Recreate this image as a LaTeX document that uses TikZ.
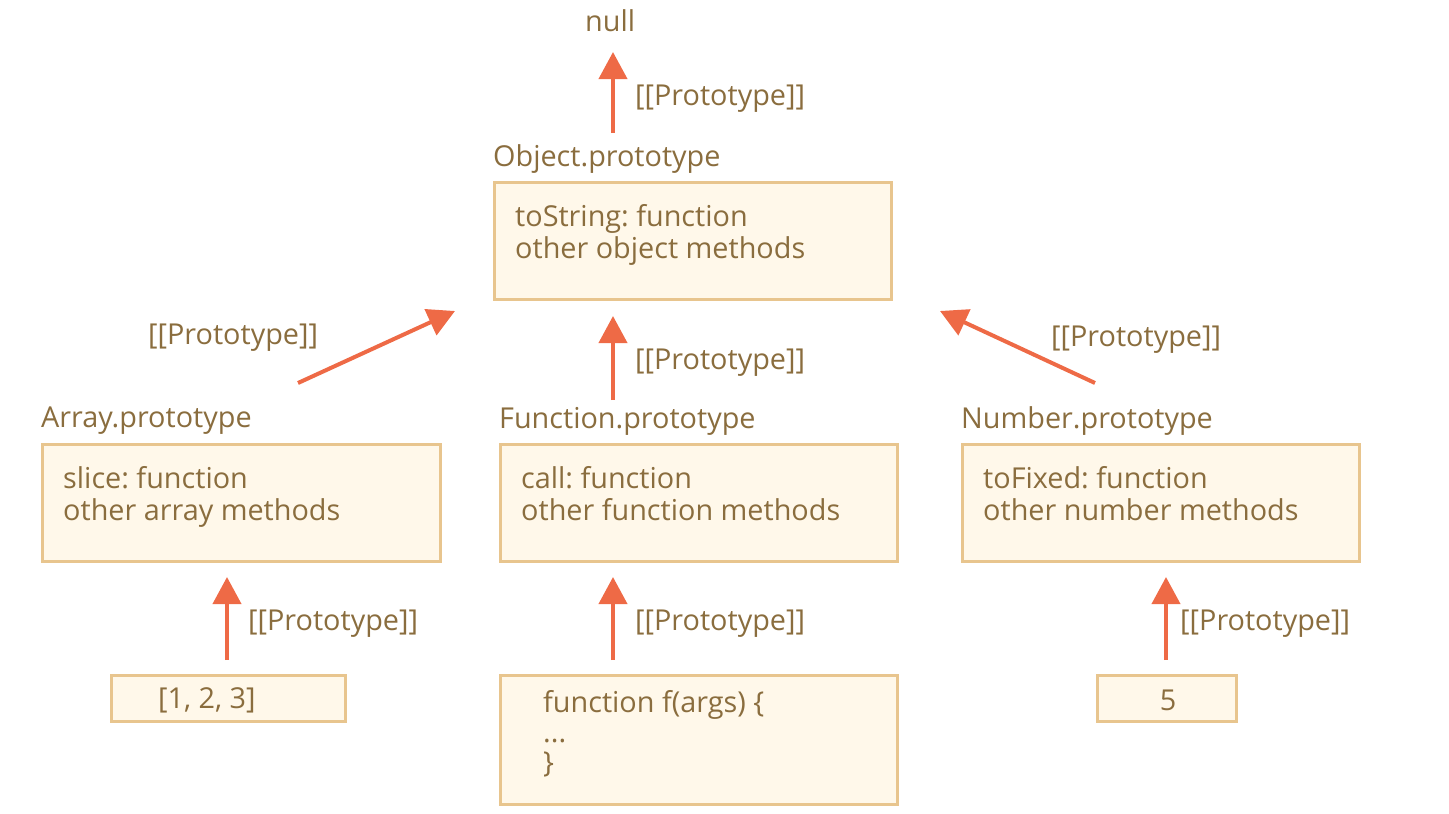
\documentclass[tikz,border=0pt]{standalone}
\usepackage{fontspec}
\setmainfont{Open Sans}
\usetikzlibrary{arrows.meta}
\frenchspacing
\definecolor{protoarrow}{HTML}{EE6A46}
\definecolor{prototext}{HTML}{8A6D3E}
\definecolor{protoedge}{HTML}{E8C58E}
\definecolor{protofill}{HTML}{FFF8EA}
\tikzset{
  lbl/.style={text=prototext, inner sep=0pt, anchor=west, font=\fontsize{28.8}{30}\selectfont},
  lines/.style={lbl, align=left},
  pbox/.style={draw=protoedge, fill=protofill, line width=3pt, inner sep=0pt, anchor=north west},
  link/.style={draw=protoarrow, line width=4pt, -{Triangle[length=27pt,width=28pt]}},
}
\begin{document}
\begin{tikzpicture}[x=1pt,y=-1pt]
\useasboundingbox (0,0) rectangle (1449,814);

% prototype boxes
\node[pbox, minimum width=397pt, minimum height=117pt] (obj) at (493,181) {};
\node[pbox, minimum width=398pt, minimum height=117pt] (arr) at (41,443) {};
\node[pbox, minimum width=397pt, minimum height=117pt] (fun) at (499,443) {};
\node[pbox, minimum width=397pt, minimum height=117pt] (num) at (961,443) {};
\node[pbox, minimum width=234pt, minimum height=46pt] (arrlit) at (110,674) {};
\node[pbox, minimum width=397pt, minimum height=129pt] (funlit) at (499,674) {};
\node[pbox, minimum width=139pt, minimum height=46pt] (numlit) at (1096,674) {};

% titles
\node[lbl] (null) at (585,21) {null};
\node[lbl] (objname) at (493,159) {Object.prototype};
\node[lbl] (arrname) at (41,421) {Array.prototype};
\node[lbl] (funname) at (499,421) {Function.prototype};
\node[lbl] (numname) at (961,421) {Number.prototype};

% contents
\node[lines] (objtxt) at (515,236) {\strut toString: function\\\strut other object methods};
\node[lines] (arrtxt) at (63,498) {\strut slice: function\\\strut other array methods};
\node[lines] (funtxt) at (521,498) {\strut call: function\\\strut other function methods};
\node[lines] (numtxt) at (983,498) {\strut toFixed: function\\\strut other number methods};
\node[lbl] (arrval) at (158,700) {[1, 2, 3]};
\node[lines] (funval) at (543,736) {\strut function f(args) \{\\\strut ...\\\strut \}};
\node[lbl, anchor=center] (numval) at (1168,700) {5};

% arrow ends
\coordinate (objfrom) at (613,133);
\coordinate (objto) at (613,52);
\coordinate (arrfrom) at (298,383);
\coordinate (arrto) at (455,311);
\coordinate (funfrom) at (613,400);
\coordinate (funto) at (613,316);
\coordinate (numfrom) at (1095,383);
\coordinate (numto) at (940,311);
\coordinate (arrlitfrom) at (227,660);
\coordinate (arrlitto) at (227,577);
\coordinate (funlitfrom) at (613,660);
\coordinate (funlitto) at (613,577);
\coordinate (numlitfrom) at (1166,660);
\coordinate (numlitto) at (1166,577);

\draw[link] (objfrom) -- (objto);
\draw[link] (arrfrom) -- (arrto);
\draw[link] (funfrom) -- (funto);
\draw[link] (numfrom) -- (numto);
\draw[link] (arrlitfrom) -- (arrlitto);
\draw[link] (funlitfrom) -- (funlitto);
\draw[link] (numlitfrom) -- (numlitto);

% [[Prototype]] labels
\node[lbl] (p1) at (635,99) {[[Prototype]]};
\node[lbl] (p2) at (148,338) {[[Prototype]]};
\node[lbl] (p3) at (635,363) {[[Prototype]]};
\node[lbl] (p4) at (1051,340) {[[Prototype]]};
\node[lbl] (p5) at (248,624) {[[Prototype]]};
\node[lbl] (p6) at (635,624) {[[Prototype]]};
\node[lbl] (p7) at (1180,624) {[[Prototype]]};
\end{tikzpicture}
\end{document}
